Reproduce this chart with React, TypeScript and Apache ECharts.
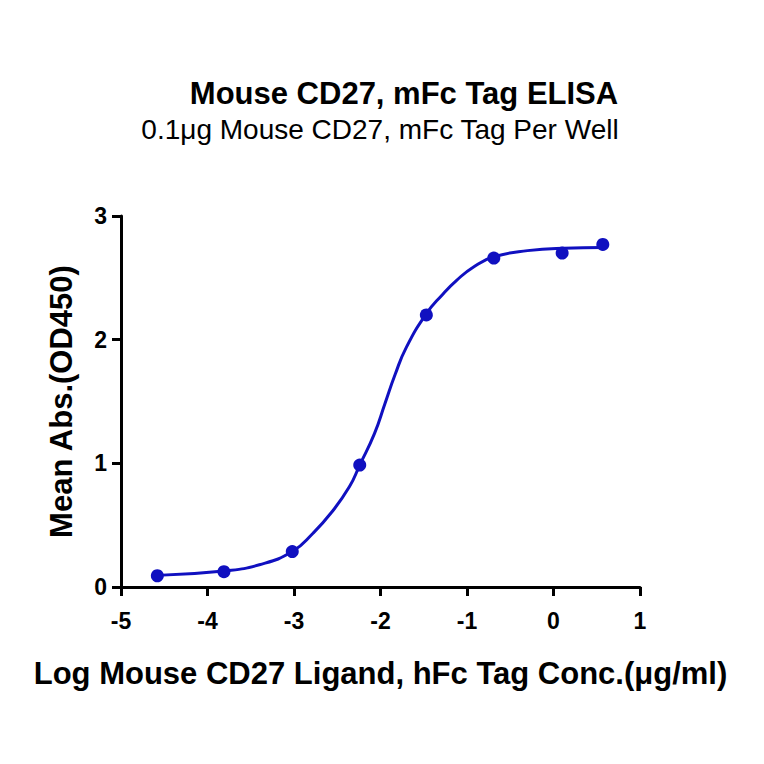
import React, { useRef, useEffect } from 'react';
import * as echarts from 'echarts';

// measured points (log conc, OD450)
const pointX = [-4.58, -3.81, -3.02, -2.24, -1.47, -0.69, 0.1, 0.57];
const pointY = [0.091, 0.124, 0.287, 0.986, 2.2, 2.66, 2.7, 2.77];

// fitted curve
const curveX = [-4.58, -3.81, -3.4, -3.02, -2.78, -2.57, -2.36, -2.24, -2.07, -1.95, -1.83, -1.7, -1.47, -1.29, -1.12, -0.92, -0.69, -0.3, 0.12, 0.57];
const curveY = [0.094, 0.13, 0.18, 0.287, 0.435, 0.6, 0.81, 0.986, 1.24, 1.48, 1.72, 1.94, 2.21, 2.36, 2.48, 2.59, 2.67, 2.72, 2.74, 2.745];

const titleText = 'Mouse CD27, mFc Tag ELISA';
const subtitleText = '0.1μg Mouse CD27, mFc Tag Per Well';
const xName = 'Log Mouse CD27 Ligand, hFc Tag Conc.(μg/ml)';
const yName = 'Mean Abs.(OD450)';

const blue = '#1010c0';
const font = '"Liberation Sans", Arial, sans-serif';

const App: React.FC = () => {
  const chartRef = useRef<HTMLDivElement>(null);

  useEffect(() => {
    if (!chartRef.current) return;
    const chart = echarts.init(chartRef.current, null, { renderer: 'svg' });

    const axisCommon = {
      axisLine: { show: true, onZero: false, lineStyle: { color: '#000', width: 3 } },
      axisTick: { show: true, length: 9, lineStyle: { color: '#000', width: 3 } },
      splitLine: { show: false },
      axisLabel: { color: '#000', fontSize: 23, fontWeight: 'bold', fontFamily: font },
      nameLocation: 'middle',
      nameTextStyle: { color: '#000', fontSize: 31, fontWeight: 'bold', fontFamily: font },
    };

    chart.setOption({
      animation: false,
      backgroundColor: '#fff',
      grid: { left: 121, right: 124, top: 216, bottom: 177 },
      graphic: [
        {
          type: 'text', x: 404, y: 93,
          style: { text: titleText, fill: '#000', font: `bold 31px ${font}`, align: 'center', verticalAlign: 'middle' },
        },
        {
          type: 'text', x: 380, y: 129,
          style: { text: subtitleText, fill: '#000', font: `28px ${font}`, align: 'center', verticalAlign: 'middle' },
        },
      ],
      xAxis: {
        ...axisCommon,
        type: 'value',
        min: -5,
        max: 1,
        interval: 1,
        name: xName,
        nameGap: 71,
        axisLabel: { ...axisCommon.axisLabel, margin: 22 },
      },
      yAxis: {
        ...axisCommon,
        type: 'value',
        min: 0,
        max: 3,
        interval: 1,
        name: yName,
        nameGap: 44,
        axisLabel: { ...axisCommon.axisLabel, margin: 14 },
      },
      series: [
        {
          type: 'line',
          data: curveX.map((x, i) => [x, curveY[i]]),
          smooth: true,
          showSymbol: false,
          lineStyle: { color: blue, width: 3 },
          z: 2,
        },
        {
          type: 'scatter',
          data: pointX.map((x, i) => [x, pointY[i]]),
          symbol: 'circle',
          symbolSize: 13,
          itemStyle: { color: blue, opacity: 1 },
          z: 3,
        },
      ],
    });

    return () => chart.dispose();
  }, []);

  return (
    <div
      ref={chartRef}
      style={{ position: 'fixed', left: 0, top: 0, width: 764, height: 764 }}
    />
  );
};

export default App;
